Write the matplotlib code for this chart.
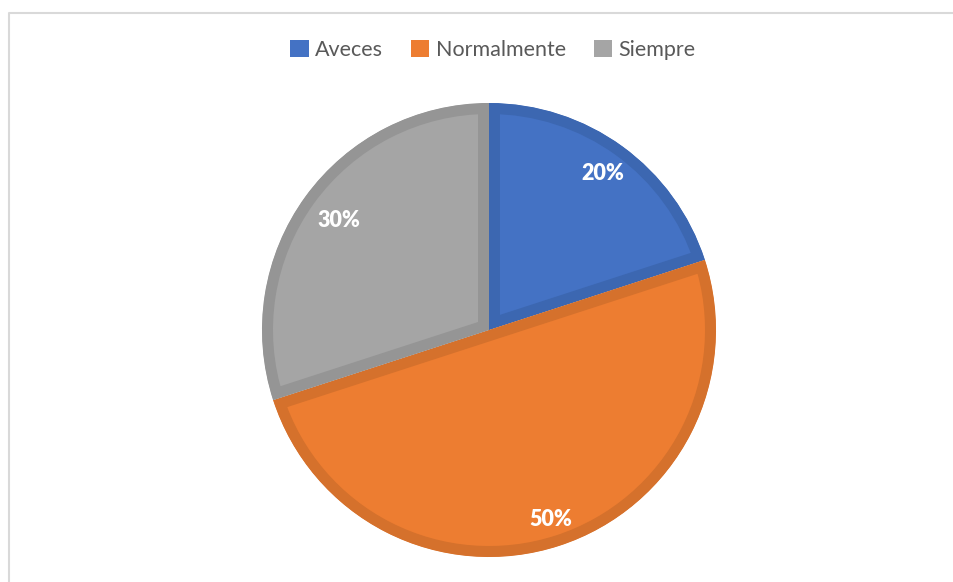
import matplotlib.pyplot as plt
import numpy as np
from matplotlib.patches import Patch

# Data
labels = ["Aveces", "Normalmente", "Siempre"]
values = [20, 50, 30]
fill_colors = ["#4472c4", "#ed7d31", "#a5a5a5"]
edge_colors = ["#3c67b1", "#d5712c", "#959595"]
label_dist = [0.85, 0.88, 0.82]

plt.rcParams["font.family"] = ["Lato", "DejaVu Sans"]

H = 582
fig = plt.figure(figsize=(9.54, 5.82), dpi=100)
ax = fig.add_axes([0, 0, 1, 1])

cx, cy, R = 489, H - 330, 227
wedges, _ = ax.pie(values, colors=fill_colors, startangle=90, counterclock=False,
                   center=(cx, cy), radius=R, frame=True)
ax.set_xlim(0, 954)
ax.set_ylim(0, H)
ax.set_aspect("equal")
ax.axis("off")

# chart border (top and left visible)
ax.plot([9, 9, 954], [0, H - 13, H - 13], color="#d9d9d9", lw=1.5, solid_capstyle="butt")

# inset edge: wide stroke clipped to the wedge itself
for w, ec in zip(wedges, edge_colors):
    w.set_edgecolor(ec)
    w.set_linewidth(22 * 72 / 100)
    w.set_clip_on(True)
    w.set_clip_path(w)

# percentage labels
total = sum(values)
for w, v, d in zip(wedges, values, label_dist):
    ang = np.deg2rad((w.theta1 + w.theta2) / 2)
    x = cx + d * R * np.cos(ang)
    y = cy + d * R * np.sin(ang)
    ax.text(x, y, f"{v / total:.0%}", color="white", fontsize=15.5, fontweight="heavy",
            ha="center", va="center")

handles = [Patch(facecolor=c, edgecolor="none") for c in fill_colors]
fig.legend(handles, labels, loc="center", bbox_to_anchor=(493 / 954, 1 - 50 / H),
           ncol=3, frameon=False, fontsize=15.5, labelcolor="#595959",
           handlelength=0.85, handleheight=0.85, handletextpad=0.3, columnspacing=1.3)

fig.savefig("out.png", dpi=100)
